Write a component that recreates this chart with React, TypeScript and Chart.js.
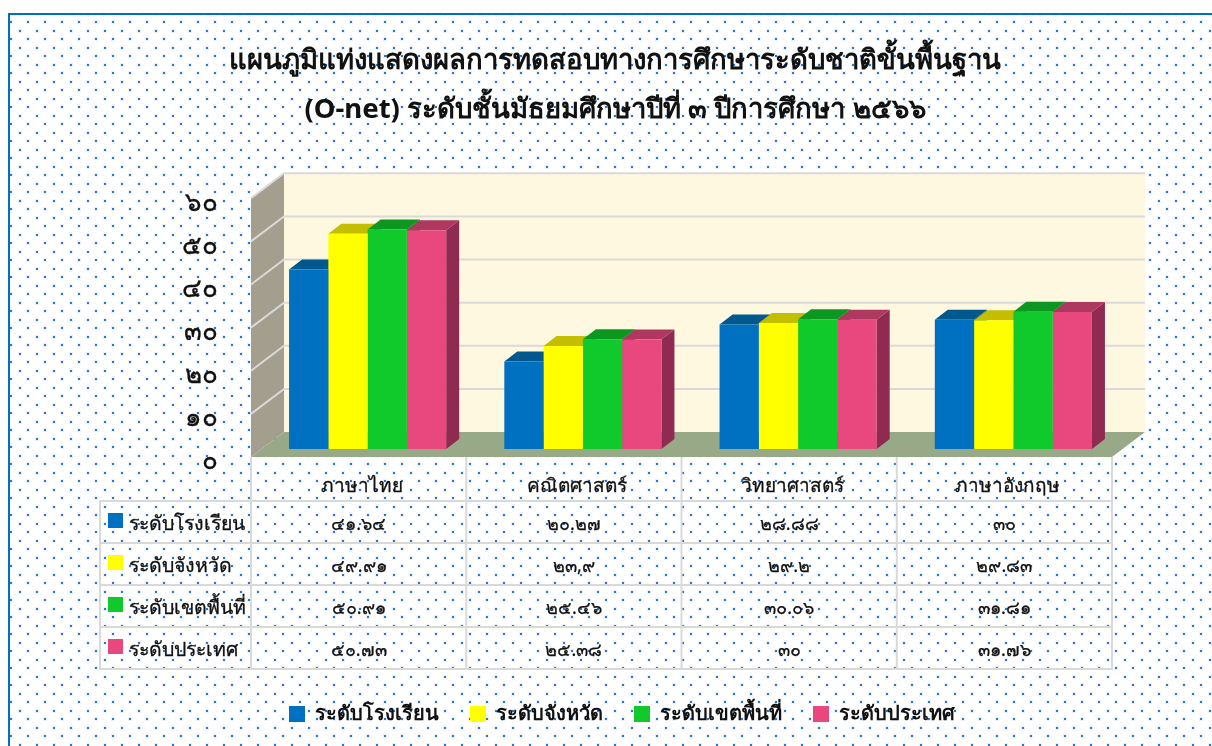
import React, { useEffect, useRef } from "react";
import { Chart, registerables } from "chart.js";

Chart.register(...registerables);

const titleLines = [
  "แผนภูมิแท่งแสดงผลการทดสอบทางการศึกษาระดับชาติขั้นพื้นฐาน",
  "(O-net) ระดับชั้นมัธยมศึกษาปีที่ ๓ ปีการศึกษา ๒๕๖๖",
];
const categories = ["ภาษาไทย", "คณิตศาสตร์", "วิทยาศาสตร์", "ภาษาอังกฤษ"];
const seriesNames = ["ระดับโรงเรียน", "ระดับจังหวัด", "ระดับเขตพื้นที่", "ระดับประเทศ"];
const schoolValues = [41.64, 20.27, 28.88, 30];
const provinceValues = [49.91, 23.9, 29.2, 29.83];
const areaValues = [50.91, 25.46, 30.06, 31.81];
const nationValues = [50.73, 25.38, 30, 31.76];
const schoolLabels = ["๔๑.๖๔", "๒๐.๒๗", "๒๘.๘๘", "๓๐"];
const provinceLabels = ["๔๙.๙๑", "๒๓,๙", "๒๙.๒", "๒๙.๘๓"];
const areaLabels = ["๕๐.๙๑", "๒๕.๔๖", "๓๐.๐๖", "๓๑.๘๑"];
const nationLabels = ["๕๐.๗๓", "๒๕.๓๘", "๓๐", "๓๑.๗๖"];
const yTickLabels: Record<number, string> = { 0: "๐", 10: "๑๐", 20: "๒๐", 30: "๓๐", 40: "๔๐", 50: "๕๐", 60: "๖๐" };

const frontColors = ["#0070C0", "#FFFF00", "#10C92A", "#E8487E"];
const topColors = ["#00588F", "#C4BE00", "#0C9720", "#AE3860"];
const sideColors = ["#004C80", "#A8A300", "#0A8019", "#8F2A50"];

const FONT = '"Noto Sans", "Open Sans", sans-serif';
const INK = "#111111";
const GRID = "#D9D9D9";

// 3D geometry relative to the bars' plane
const FRONT_DX = -9, FRONT_DY = 8; // bars' plane -> front plane of the box
const BACK_DX = 24, BACK_DY = -17; // bars' plane -> back wall
const BAR_DX = 13, BAR_DY = -10; // bar depth

const tableRows = [schoolLabels, provinceLabels, areaLabels, nationLabels];
const ROW_TOPS = [501, 543, 585, 627];
const ROW_H = 42;
const TABLE_LEFT = 100;

function poly(ctx: CanvasRenderingContext2D, pts: number[][], fill: string) {
  ctx.beginPath();
  pts.forEach((p, i) => (i ? ctx.lineTo(p[0], p[1]) : ctx.moveTo(p[0], p[1])));
  ctx.closePath();
  ctx.fillStyle = fill;
  ctx.fill();
}

function dotPattern(ctx: CanvasRenderingContext2D) {
  const c = document.createElement("canvas");
  c.width = 17;
  c.height = 17;
  const p = c.getContext("2d")!;
  [[10, 4], [2, 13]].forEach(([x, y]) => {
    p.fillStyle = "rgba(46,117,198,0.10)";
    p.fillRect(x - 1, y - 1, 4, 4);
    p.fillStyle = "#2E75C6";
    p.fillRect(x, y, 2, 2);
  });
  return ctx.createPattern(c, "repeat")!;
}

const scenePlugin = {
  id: "scene",
  beforeDraw(chart: any) {
    const { ctx, width, height } = chart;
    ctx.save();
    ctx.fillStyle = "#FFFFFF";
    ctx.fillRect(0, 0, width, height);
    ctx.fillStyle = dotPattern(ctx);
    ctx.fillRect(10, 14, width - 10, height - 14);
    ctx.fillStyle = "#0070C0";
    ctx.fillRect(8, 13, width - 8, 2);
    ctx.fillRect(8, 13, 2, height - 13);

    // data table
    const x = chart.scales.x;
    const yb = chart.chartArea.bottom + FRONT_DY;
    const half = (x.getPixelForValue(1) - x.getPixelForValue(0)) / 2;
    const colEdges = [0, 1, 2, 3].map((i) => x.getPixelForValue(i) - half + FRONT_DX);
    colEdges.push(x.getPixelForValue(3) + half + FRONT_DX);
    ctx.fillStyle = GRID;
    colEdges.forEach((cx) => ctx.fillRect(cx - 1, yb, 2, ROW_TOPS[3] + ROW_H - yb));
    ctx.fillRect(TABLE_LEFT - 1, ROW_TOPS[0], 2, ROW_H * 4);
    ROW_TOPS.concat([ROW_TOPS[3] + ROW_H]).forEach((ry) =>
      ctx.fillRect(TABLE_LEFT - 1, ry - 1, colEdges[4] - TABLE_LEFT + 2, 2)
    );
    ctx.textBaseline = "middle";
    ctx.strokeStyle = INK;
    ROW_TOPS.forEach((ry, r) => {
      ctx.fillStyle = frontColors[r];
      ctx.fillRect(TABLE_LEFT + 8, ry + 12, 15, 15);
      ctx.fillStyle = INK;
      ctx.textAlign = "left";
      ctx.font = `19.5px ${FONT}`;
      ctx.lineWidth = 0.3;
      ctx.fillText(seriesNames[r], TABLE_LEFT + 29, ry + 23);
      ctx.strokeText(seriesNames[r], TABLE_LEFT + 29, ry + 23);
      ctx.textAlign = "center";
      ctx.font = `18px ${FONT}`;
      ctx.lineWidth = 0.25;
      tableRows[r].forEach((t, i) => {
        const cx = (colEdges[i] + colEdges[i + 1]) / 2;
        ctx.fillText(t, cx, ry + 24);
        ctx.strokeText(t, cx, ry + 24);
      });
    });
    ctx.restore();
  },
  beforeDatasetsDraw(chart: any) {
    const { ctx, chartArea, scales } = chart;
    const y = scales.y;
    const left = chartArea.left, right = chartArea.right;
    const y0 = y.getPixelForValue(0), yMax = y.getPixelForValue(60);
    const fl = left + FRONT_DX, fr = right + FRONT_DX;
    const bl = left + BACK_DX, br = right + BACK_DX;
    ctx.save();
    poly(ctx, [[bl, yMax + BACK_DY], [br, yMax + BACK_DY], [br, y0 + BACK_DY], [bl, y0 + BACK_DY]], "#FFF8E1");
    poly(ctx, [[fl, yMax + FRONT_DY], [bl, yMax + BACK_DY], [bl, y0 + BACK_DY], [fl, y0 + FRONT_DY]], "#A49E8F");
    poly(ctx, [[fl, y0 + FRONT_DY], [bl, y0 + BACK_DY], [br, y0 + BACK_DY], [fr, y0 + FRONT_DY]], "#98A988");
    y.ticks.forEach((t: any) => {
      if (t.value === 0) return;
      const py = y.getPixelForValue(t.value);
      ctx.strokeStyle = GRID;
      ctx.lineWidth = 2;
      ctx.beginPath();
      ctx.moveTo(fl, py + FRONT_DY);
      ctx.lineTo(bl, py + BACK_DY);
      ctx.lineTo(br, py + BACK_DY);
      ctx.stroke();
    });
    // bar tops and sides, left to right in each group
    const n = chart.data.datasets.length;
    categories.forEach((_, c) => {
      for (let d = 0; d < n; d++) {
        const bar = chart.getDatasetMeta(d).data[c];
        const { x: cx, y: ty, base, width: w } = bar.getProps(["x", "y", "base", "width"], true);
        const l = cx - w / 2, r = cx + w / 2;
        poly(ctx, [[r, ty], [r + BAR_DX, ty + BAR_DY], [r + BAR_DX, base + BAR_DY], [r, base]], sideColors[d]);
        poly(ctx, [[l, ty], [l + BAR_DX, ty + BAR_DY], [r + BAR_DX, ty + BAR_DY], [r, ty]], topColors[d]);
      }
    });
    ctx.restore();
  },
  afterLayout(chart: any) {
    if (chart.legend) {
      chart.legend.left += 7;
      chart.legend.right += 7;
    }
  },
};

const seriesValues = [schoolValues, provinceValues, areaValues, nationValues];

export default function App() {
  const ref = useRef<HTMLCanvasElement>(null);
  useEffect(() => {
    document.body.style.margin = "0";
    document.body.style.overflow = "hidden";
    const chart = new Chart(ref.current!, {
      type: "bar",
      data: {
        labels: categories,
        datasets: seriesNames.map((name, i) => ({
          label: name,
          data: seriesValues[i],
          backgroundColor: frontColors[i],
          borderWidth: 0,
          barPercentage: 1,
          categoryPercentage: 0.73,
        })),
      },
      options: {
        responsive: false,
        animation: false,
        layout: { padding: { left: 109, right: 91, top: 0, bottom: 12 } },
        plugins: {
          tooltip: { enabled: false },
          title: {
            display: true,
            text: titleLines,
            color: INK,
            font: { family: FONT, size: 27.5, weight: "bold", lineHeight: 1.78 },
            padding: { top: 37, bottom: 55.35 },
          },
          legend: {
            position: "bottom",
            labels: {
              color: INK,
              font: { family: FONT, size: 20, weight: "bold" },
              boxWidth: 16,
              boxHeight: 16,
              padding: 31,
            },
          },
        },
        scales: {
          x: {
            grid: { display: false, drawTicks: false },
            border: { display: false },
            afterFit(s: any) {
              s.height = 224;
            },
            ticks: {
              color: INK,
              font: { family: FONT, size: 19 },
              textStrokeColor: INK,
              textStrokeWidth: 0.3,
              padding: 26,
              labelOffset: -6,
              autoSkip: false,
              maxRotation: 0,
            },
          },
          y: {
            min: 0,
            max: 60,
            grid: { display: false, drawTicks: false },
            border: { display: false },
            afterFit(s: any) {
              s.width = 151;
            },
            ticks: {
              stepSize: 10,
              color: INK,
              font: { family: FONT, size: 26 },
              textStrokeColor: INK,
              textStrokeWidth: 0.35,
              padding: 42,
              labelOffset: 13,
              callback: (v: any) => yTickLabels[v as number],
            },
          },
        },
      },
      plugins: [scenePlugin],
    } as any);
    return () => chart.destroy();
  }, []);
  return <canvas ref={ref} width={1212} height={746} style={{ display: "block", width: 1212, height: 746 }} />;
}
